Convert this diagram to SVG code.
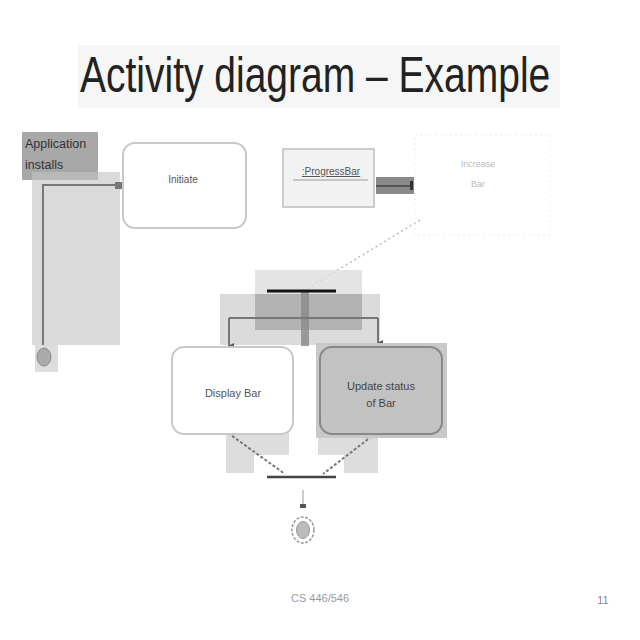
<svg xmlns="http://www.w3.org/2000/svg" width="640" height="640" viewBox="0 0 640 640">
<defs>
<style>
.t{font-family:"Liberation Sans",Arial,sans-serif;fill:#555}
.act{fill:#fff;stroke:#c8c8c8;stroke-width:2}
.ov{fill:#999;fill-opacity:0.35}
.ln{stroke:#777;stroke-width:2;fill:none}
</style>
<marker id="ah" markerWidth="6" markerHeight="6" refX="3" refY="5" orient="auto" markerUnits="userSpaceOnUse">
<path d="M0,0 L6,0 L3,6 Z" fill="#555"/>
</marker>
</defs>
<rect width="640" height="640" fill="#fff"/>
<g id="title">
<rect x="78" y="45" width="482" height="63" fill="#f6f6f6"/>
<text transform="translate(80,92) scale(0.78,1)" x="0" y="0" font-family="'Liberation Sans',Arial,sans-serif" font-size="50" fill="#222">Activity diagram – Example</text>
</g>
<g id="swimlane">
<rect x="32" y="172" width="88" height="173" fill="#dadada"/>
<rect x="22" y="132" width="76" height="48" fill="#a8a8a8"/>
<rect x="32" y="172" width="66" height="8" fill="#b8b8b8"/>
<text class="t" x="25" y="148" font-size="12.5" style="fill:#333">Application</text>
<text class="t" x="25" y="169" font-size="12.5" style="fill:#333">installs</text>
</g>
<g id="connectors">
<path class="ln" d="M43,350 L43,185 L118,185"/>
<rect x="115" y="182" width="7" height="7" fill="#777"/>
<line x1="420" y1="220" x2="305" y2="290" stroke="#bbb" stroke-width="1.5" stroke-dasharray="2,3"/>
<rect x="255" y="270" width="107" height="60" fill="#ddd" fill-opacity="0.8"/>
<rect x="220" y="294" width="160" height="51" class="ov"/>
<rect x="255" y="294" width="107" height="36" fill="#888" fill-opacity="0.35"/>
<rect x="301" y="291" width="8" height="55" fill="#888" fill-opacity="0.8"/>
<line x1="267" y1="291" x2="336" y2="291" stroke="#111" stroke-width="3"/>
<path class="ln" d="M229,318 L378,318" stroke="#666"/>
<line x1="229" y1="318" x2="229" y2="346" stroke="#555" stroke-width="1.5" marker-end="url(#ah)"/>
<line x1="378" y1="318" x2="378" y2="343" stroke="#555" stroke-width="1.5" marker-end="url(#ah)"/>
<path d="M226,432 H289 V455 H254 V473 H226 Z" fill="#ddd"/>
<path d="M318,432 H378 V473 H344 V455 H318 Z" fill="#ddd"/>
<line x1="228" y1="433" x2="285" y2="474" stroke="#777" stroke-width="2" stroke-dasharray="3,2"/>
<line x1="376" y1="433" x2="323" y2="474" stroke="#777" stroke-width="2" stroke-dasharray="3,2"/>
<line x1="267" y1="477" x2="336" y2="477" stroke="#444" stroke-width="2.5"/>
<line x1="303" y1="490" x2="303" y2="504" stroke="#999" stroke-width="1"/>
<rect x="300" y="504" width="6" height="4" fill="#555"/>
<rect x="376" y="177" width="38" height="17" fill="#8a8a8a"/>
<line x1="376" y1="186" x2="411" y2="186" stroke="#555" stroke-width="2"/>
<rect x="410" y="181" width="3" height="9" fill="#333"/>
</g>
<g id="start">
<rect x="35" y="345" width="23" height="27" fill="#ddd"/>
<ellipse cx="44" cy="357" rx="7" ry="9" fill="#aaa" stroke="#888" stroke-width="1"/>
</g>
<g id="initiate">
<rect class="act" x="123" y="143" width="123" height="85" rx="12"/>
<text class="t" x="183" y="183" font-size="10" text-anchor="middle">Initiate</text>
</g>
<g id="progressbar">
<rect x="283" y="149" width="91" height="58" fill="#f2f2f2" stroke="#ccc" stroke-width="2"/>
<text class="t" x="331" y="175" font-size="10" text-anchor="middle" text-decoration="underline">:ProgressBar</text>
<line x1="293" y1="180" x2="368" y2="180" stroke="#999" stroke-width="1"/>
</g>
<g id="increase">
<rect x="415" y="135" width="135" height="100" fill="none" stroke="#eee" stroke-width="1" stroke-dasharray="2,3"/>
<text x="478" y="167" font-size="9" text-anchor="middle" font-family="'Liberation Sans',Arial,sans-serif" fill="#bbb">Increase</text>
<text x="478" y="187" font-size="9" text-anchor="middle" font-family="'Liberation Sans',Arial,sans-serif" fill="#bbb">Bar</text>
</g>
<g id="display">
<rect class="act" x="172" y="347" width="121" height="87" rx="12"/>
<text class="t" x="233" y="397" font-size="11" text-anchor="middle">Display Bar</text>
</g>
<g id="update">
<rect x="316" y="343" width="131" height="95" fill="#c8c8c8"/>
<rect x="320" y="347" width="122" height="87" rx="12" fill="#c2c2c2" stroke="#888" stroke-width="2"/>
<text class="t" x="381" y="390" font-size="11" text-anchor="middle" style="fill:#444">Update status</text>
<text class="t" x="381" y="407" font-size="11" text-anchor="middle" style="fill:#444">of Bar</text>
</g>
<g id="end">
<ellipse cx="303" cy="530" rx="11" ry="13" fill="#fff" stroke="#999" stroke-width="1.5" stroke-dasharray="3,1.5"/>
<ellipse cx="303" cy="530" rx="6.5" ry="8.5" fill="#bbb" stroke="#999" stroke-width="1"/>
</g>
<g id="footer">
<text x="320" y="602" font-size="11" text-anchor="middle" font-family="'Liberation Sans',Arial,sans-serif" fill="#999">CS 446/546</text>
<text x="603" y="604" font-size="11" text-anchor="middle" font-family="'Liberation Sans',Arial,sans-serif" fill="#888">11</text>
</g>
</svg>
